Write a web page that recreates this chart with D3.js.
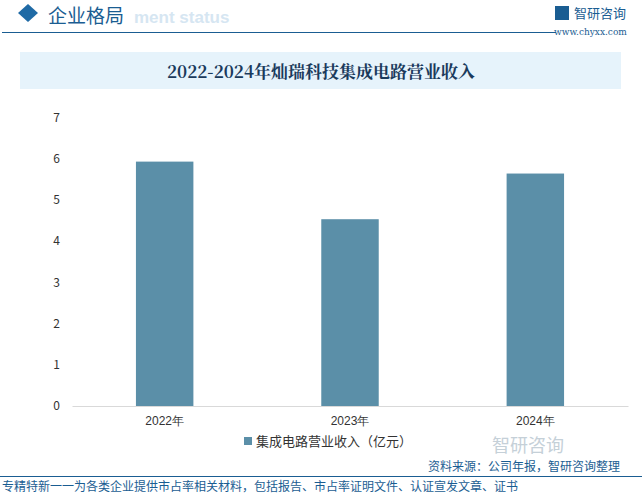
<!DOCTYPE html><html><head><meta charset="utf-8"><script src="https://cdn.jsdelivr.net/npm/d3@7"></script>
<style>body{margin:0;background:#fff}svg{font-family:"Noto Sans CJK SC","Noto Sans",sans-serif}</style></head><body><svg id="c" width="642" height="495"></svg>
<script>
const categories=["2022年","2023年","2024年"];
const values=[5.94,4.54,5.65];
const yTicks=[0,1,2,3,4,5,6,7];
const seriesName="集成电路营业收入（亿元）";
const svg=d3.select("#c");
// header
svg.append("path").attr("d","M18,13 L28,4 L38,13 L28,22 Z").attr("fill","#1f6aa5");
svg.append("text").attr("x",134).attr("y",23).attr("fill","#d6e6f2").attr("font-size",17).attr("font-weight","bold").attr("font-family","Liberation Sans,Arial").text("ment status");
svg.append("text").attr("x",48).attr("y",23).attr("fill","#1a5d92").attr("font-size",19).text("企业格局");
svg.append("line").attr("x1",2).attr("x2",556).attr("y1",32.5).attr("y2",32.5).attr("stroke","#1a5d92").attr("stroke-width",1);
svg.append("rect").attr("x",555).attr("y",6).attr("width",14).attr("height",14).attr("fill","#1a5d92");
svg.append("text").attr("x",574).attr("y",18).attr("fill","#1a5d92").attr("font-size",13).text("智研咨询");
svg.append("text").attr("x",554).attr("y",35).attr("fill","#1a5d92").attr("font-size",9).attr("font-family","DejaVu Serif").text("www.chyxx.com");
// title box
svg.append("rect").attr("x",20).attr("y",52).attr("width",601).attr("height",37).attr("fill","#e6f3fb");
svg.append("text").attr("x",321).attr("y",78).attr("text-anchor","middle").attr("fill","#1a3a5c").attr("font-size",17).attr("font-weight","bold").attr("font-family","Noto Serif CJK SC,Noto Sans CJK SC").text("2022-2024年灿瑞科技集成电路营业收入");
const x=d3.scaleBand().domain(categories).range([72,628]).paddingInner(0.69).paddingOuter(0.345);
const y=d3.scaleLinear().domain([0,7]).range([406,118]);
const g=svg.append("g");
g.append("g").attr("transform","translate(0,406)").call(d3.axisBottom(x).tickSize(0).tickPadding(10))
 .call(a=>a.select(".domain").attr("stroke","#d9d9d9")).selectAll("text").attr("font-size",12).attr("fill","#333");
g.selectAll(".ty").data(yTicks).enter().append("text").attr("x",60).attr("y",d=>y(d)+4).attr("text-anchor","end").attr("font-size",12).attr("fill","#333").text(d=>d);
g.selectAll(".b").data(values).enter().append("rect").attr("x",(d,i)=>x(categories[i])).attr("width",x.bandwidth()).attr("y",d=>y(d)).attr("height",d=>406-y(d)).attr("fill","#5b8fa8");
svg.append("rect").attr("x",244).attr("y",437).attr("width",8).attr("height",8).attr("fill","#5b8fa8");
svg.append("text").attr("x",256).attr("y",446).attr("font-size",13).attr("fill","#333").text(seriesName);
// footer
svg.append("text").attr("x",492).attr("y",452).attr("font-size",18).attr("fill","#c5d0d8").text("智研咨询");
svg.append("text").attr("x",428).attr("y",471).attr("font-size",12).attr("fill","#1a5d92").text("资料来源：公司年报，智研咨询整理");
svg.append("line").attr("x1",0).attr("x2",642).attr("y1",476.5).attr("y2",476.5).attr("stroke","#1a5d92");
svg.append("text").attr("x",2).attr("y",491).attr("font-size",12).attr("fill","#1a5d92").text("专精特新一一为各类企业提供市占率相关材料，包括报告、市占率证明文件、认证宣发文章、证书");
</script></body></html>
